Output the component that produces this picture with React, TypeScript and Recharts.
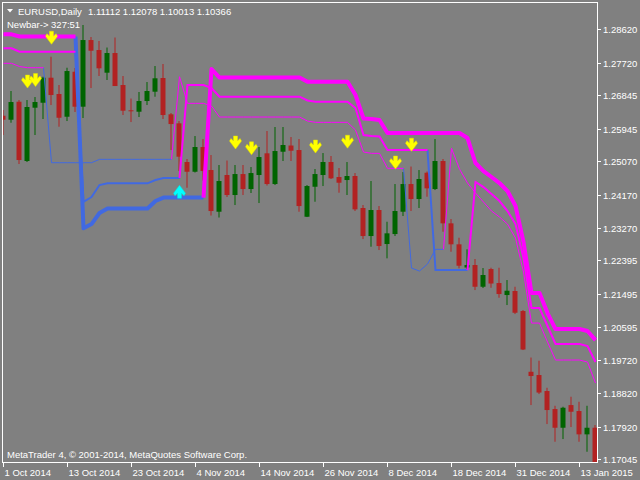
import React from "react";
import { ComposedChart, Bar, Line, Scatter, XAxis, YAxis } from "recharts";

const _ = null;

// daily EURUSD candles, 1 Oct 2014 .. 15 Jan 2015
const open = [
  1.26292, 1.26184, 1.26669, 1.25072, 1.26508, 1.26642, 1.27316, 1.26877, 1.26265, 1.27477,
  1.26535, 1.28331, 1.28062, 1.27451, 1.27981, 1.27119, 1.26438, 1.264, 1.26688, 1.26939,
  1.27308, 1.2633, 1.26087, 1.25045, 1.24783, 1.25449, 1.24829, 1.23706, 1.24695, 1.24156,
  1.24721, 1.24317, 1.24695, 1.25279, 1.24452, 1.25322, 1.25489, 1.25368, 1.23571, 1.24379,
  1.24695, 1.25045, 1.24641, 1.2456, 1.24668, 1.23806, 1.23051, 1.23752, 1.22836, 1.23105,
  1.23706, 1.24452, 1.24048, 1.24756, 1.24317, 1.25072, 1.23393, 1.22828, 1.22203, 1.2227,
  1.21685, 1.22162, 1.21785, 1.21462, 1.2157, 1.21031, 1.19395, 1.19307, 1.18876, 1.18391,
  1.17887, 1.18498, 1.18337, 1.17709, 1.17887,
];
const high = [
  1.26446, 1.26958, 1.26715, 1.26715, 1.26796, 1.27343, 1.27882, 1.27119, 1.27585, 1.27577,
  1.28736, 1.28412, 1.28305, 1.28129, 1.28399, 1.27362, 1.26755, 1.26931, 1.272, 1.27631,
  1.27685, 1.26365, 1.26149, 1.25126, 1.25745, 1.25664, 1.25233, 1.24964, 1.25085, 1.24964,
  1.24964, 1.2491, 1.25449, 1.2588, 1.25988, 1.25988, 1.25718, 1.25664, 1.24425, 1.24856,
  1.25287, 1.25206, 1.24883, 1.25045, 1.24748, 1.23886, 1.24533, 1.23859, 1.23436, 1.24452,
  1.24775, 1.24923, 1.24829, 1.24789, 1.25664, 1.25126, 1.23509, 1.23005, 1.22693, 1.22432,
  1.22189, 1.22197, 1.22197, 1.21866, 1.21685, 1.21058, 1.19778, 1.19692, 1.18964, 1.18479,
  1.18453, 1.18722, 1.18587, 1.18479, 1.1796,
];
const low = [
  1.25772, 1.26103, 1.24991, 1.25045, 1.25772, 1.26203, 1.2658, 1.25996, 1.26149, 1.26392,
  1.2623, 1.27038, 1.27362, 1.27254, 1.27092, 1.26311, 1.26122, 1.26257, 1.2658, 1.26804,
  1.26203, 1.25368, 1.24802, 1.24352, 1.24762, 1.24546, 1.23603, 1.2355, 1.24102, 1.23886,
  1.24156, 1.2421, 1.2394, 1.24412, 1.24425, 1.25072, 1.25072, 1.23706, 1.23563, 1.23975,
  1.24398, 1.24587, 1.24218, 1.24156, 1.23725, 1.2297, 1.22763, 1.22674, 1.2245, 1.23051,
  1.2359, 1.23725, 1.23806, 1.2411, 1.2429, 1.23167, 1.22628, 1.22181, 1.22162, 1.21596,
  1.2165, 1.21658, 1.21389, 1.21192, 1.2095, 1.1998, 1.18498, 1.18795, 1.17986, 1.1751,
  1.17582, 1.17906, 1.1751, 1.1724, 1.16613,
];
const close = [
  1.26184, 1.26661, 1.25099, 1.26527, 1.26661, 1.27316, 1.2685, 1.26238, 1.27496, 1.26535,
  1.28331, 1.28043, 1.27569, 1.27981, 1.27092, 1.26427, 1.26419, 1.26688, 1.26958, 1.273,
  1.26311, 1.26068, 1.25188, 1.24783, 1.25449, 1.24802, 1.23725, 1.24533, 1.24156, 1.24721,
  1.24317, 1.24748, 1.25179, 1.24452, 1.25341, 1.25503, 1.25349, 1.23859, 1.24398, 1.24721,
  1.25045, 1.24606, 1.24487, 1.24668, 1.2377, 1.23051, 1.23752, 1.22782, 1.23124, 1.23725,
  1.24452, 1.24048, 1.24587, 1.24336, 1.25072, 1.23393, 1.22828, 1.22251, 1.2227, 1.21685,
  1.22001, 1.21772, 1.21489, 1.21578, 1.20985, 1.19994, 1.1928, 1.18835, 1.18364, 1.17887,
  1.18426, 1.18318, 1.17709, 1.17887, 1.16613,
];

// channel lines: outer (thick), middle, inner (thin); magenta above, blue below
const thickMag = [
  1.28485, 1.28485, 1.28426, 1.28426, 1.28426, 1.28426, 1.28426, 1.28426, 1.28426, 1.28426,
  _, _, _, _, _, _, _, _, _, _,
  _, _, _, _, _, 1.24088, 1.2755, 1.27321, 1.27321, 1.27321,
  1.27321, 1.27321, 1.27321, 1.27321, 1.27321, 1.27321, 1.27321, 1.27321, 1.27208, 1.27208,
  1.27208, 1.27208, 1.27208, 1.27208, 1.2685, 1.26217, 1.26203, 1.26176, 1.25826, 1.25826,
  1.25826, 1.25826, 1.25826, 1.25826, 1.25826, 1.25826, 1.25826, 1.25826, 1.25691, 1.25018,
  1.24802, 1.24641, 1.24479, 1.24263, 1.23859, 1.2289, 1.21516, 1.21516, 1.20977, 1.20546,
  1.20546, 1.20546, 1.20546, 1.20492, 1.20249,
];
const thickBlue = [
  _, _, _, _, _, _, _, _, _, 1.28426,
  1.23259, 1.23374, 1.23671, 1.23792, 1.23792, 1.23792, 1.23792, 1.23792, 1.23792, 1.23994,
  1.24088, 1.24088, 1.24088, 1.24088, 1.24088, 1.24088, _, _, _, _,
  _, _, _, _, _, _, _, _, _, _,
  _, _, _, _, _, _, _, _, _, _,
  _, _, _, _, _, _, _, _, _, _,
  _, _, _, _, _, _, _, _, _, _,
  _, _, _, _, _,
];
const medMag = [
  1.28108, 1.28108, 1.28016, 1.28016, 1.28016, 1.28016, 1.28016, 1.28016, 1.28016, 1.28016,
  _, _, _, _, _, _, _, _, _, _,
  _, _, 1.24614, 1.27119, 1.27119, 1.27119, 1.27038, 1.26804, 1.26804, 1.26804,
  1.26804, 1.26804, 1.26804, 1.26804, 1.26804, 1.26804, 1.26804, 1.26804, 1.26702, 1.26669,
  1.26669, 1.26669, 1.26669, 1.26669, 1.265, 1.25772, 1.25745, 1.25732, 1.25368, 1.25368,
  1.25368, 1.25368, 1.25368, 1.25368, _, _, _, _, 1.22135, 1.24506,
  1.24371, 1.24183, 1.23994, 1.23725, 1.23374, 1.22459, 1.21112, 1.21112, 1.20627, 1.20142,
  1.20142, 1.20142, 1.20142, 1.20088, 1.19657,
];
const medBlue = [
  _, _, _, _, _, _, _, _, _, 1.28016,
  1.23975, 1.24102, 1.24425, 1.24471, 1.24471, 1.24471, 1.24471, 1.24471, 1.24471, 1.2456,
  1.24614, 1.24614, 1.24614, _, _, _, _, _, _, _,
  _, _, _, _, _, _, _, _, _, _,
  _, _, _, _, _, _, _, _, _, _,
  _, _, _, 1.25368, 1.22135, 1.22135, 1.22135, 1.22135, 1.22135, _,
  _, _, _, _, _, _, _, _, _, _,
  _, _, _, _, _,
];
const thinMag = [
  1.27704, 1.27704, 1.27618, 1.27585, 1.27585, 1.27585, _, _, _, _,
  _, _, _, _, _, _, _, _, _, _,
  _, 1.25117, 1.27343, 1.26626, 1.26626, 1.26626, 1.26553, 1.26257, 1.26257, 1.26257,
  1.26257, 1.26257, 1.26257, 1.26257, 1.26257, 1.26257, 1.26257, 1.26257, 1.26149, 1.26114,
  1.26114, 1.26114, 1.26114, 1.26114, 1.25907, 1.25314, 1.25279, 1.25279, 1.24875, 1.24875,
  1.24875, _, _, _, _, 1.22693, 1.25414, 1.24856, 1.24479, 1.2421,
  1.23967, 1.23725, 1.23563, 1.23374, 1.22997, 1.22081, 1.20707, 1.20707, 1.20196, 1.19711,
  1.19711, 1.19711, 1.19711, 1.19657, 1.19091,
];
const thinBlue = [
  _, _, _, _, _, 1.27585, 1.25026, 1.25026, 1.25026, 1.25026,
  1.25026, 1.25026, 1.25117, 1.25117, 1.25117, 1.25117, 1.25117, 1.25117, 1.25117, 1.25117,
  1.25117, 1.25117, _, _, _, _, _, _, _, _,
  _, _, _, _, _, _, _, _, _, _,
  _, _, _, _, _, _, _, _, _, _,
  1.24875, 1.22189, 1.22108, 1.22297, 1.22693, 1.22693, _, _, _, _,
  _, _, _, _, _, _, _, _, _, _,
  _, _, _, _, _,
];

// signal arrows
const sellIdx = [3, 4, 6, 29, 31, 39, 43, 49, 51];
const sellPrice = [1.27213, 1.27254, 1.28393, 1.2557, 1.25414, 1.25462, 1.25592, 1.25031, 1.25511];
const buyIdx = [22];
const buyPrice = [1.24245];

const dateTickIdx = [0, 8, 16, 24, 32, 40, 48, 56, 64, 72];
const dateLabels = [
  "1 Oct 2014", "13 Oct 2014", "23 Oct 2014", "4 Nov 2014", "14 Nov 2014",
  "26 Nov 2014", "8 Dec 2014", "18 Dec 2014", "31 Dec 2014", "13 Jan 2015",
];
const priceTicks = [
  1.2862, 1.2772, 1.26845, 1.25945, 1.2507, 1.2417, 1.2327,
  1.22395, 1.21495, 1.20595, 1.1972, 1.1882, 1.1792, 1.17045,
];

const rows = open.map((o, i) => ({
  i,
  o,
  h: high[i],
  l: low[i],
  c: close[i],
  tm: thickMag[i],
  tb: thickBlue[i],
  mm: medMag[i],
  mb: medBlue[i],
  nm: thinMag[i],
  nb: thinBlue[i],
}));
const sells = sellIdx.map((i, k) => ({ i, p: sellPrice[k] }));
const buys = buyIdx.map((i, k) => ({ i, p: buyPrice[k] }));

const FONT = '"Liberation Sans", Arial, sans-serif';
const BULL = "#006400";
const BEAR = "#b22222";
const MAGENTA = "#ff00ff";
const BLUE = "#4169e1";

const Candle = (props: any) => {
  const { x, y, width, height, payload } = props;
  if (payload == null) return null;
  const top = Math.min(y, y + height);
  const span = Math.abs(height);
  const k = span / (payload.h - payload.l);
  const bTop = top + (payload.h - Math.max(payload.o, payload.c)) * k;
  const bBot = top + (payload.h - Math.min(payload.o, payload.c)) * k;
  const col = payload.c >= payload.o ? BULL : BEAR;
  const cx = x + width / 2;
  return (
    <g>
      <line x1={cx} x2={cx} y1={top} y2={top + span} stroke={col} strokeWidth={1} />
      <rect x={x} y={bTop} width={width} height={Math.max(1, bBot - bTop)} fill={col} />
    </g>
  );
};

// bold MT4-style arrow: shaft plus chevron head, ~12x13 px
const arrowPts = (cx: number, cy: number, down: boolean) => {
  const pts = [
    [-2, -6.5], [2, -6.5], [2, -1.5], [4.5, -4], [6, -1.5],
    [0, 6.5], [-6, -1.5], [-4.5, -4], [-2, -1.5],
  ];
  return pts.map(([dx, dy]) => `${cx + dx},${cy + (down ? dy : -dy)}`).join(" ");
};

const SellArrow = (props: any) => (
  <polygon points={arrowPts(props.cx, props.cy, true)} fill="#ffff00" stroke="#e0e000" strokeWidth={0.5} />
);
const BuyArrow = (props: any) => (
  <polygon points={arrowPts(props.cx, props.cy, false)} fill="#00ffff" stroke="#00e0e0" strokeWidth={0.5} />
);

const DateTick = (props: any) => {
  const { x, y, payload } = props;
  const k = dateTickIdx.indexOf(payload.value);
  const tx = Math.floor(x) + 0.5;
  return (
    <g>
      <line x1={tx} x2={tx} y1={y} y2={y + 5} stroke="#fff" />
      <text x={tx + 1} y={y + 13.5} fill="#fff" fontSize={9.5} fontFamily={FONT}>
        {dateLabels[k]}
      </text>
    </g>
  );
};

const PriceTick = (props: any) => {
  const { x, y, payload } = props;
  const ty = Math.round(y) + 0.5;
  return (
    <g>
      <line x1={x} x2={x + 4} y1={ty} y2={ty} stroke="#fff" />
      <text x={x + 6} y={ty + 3.5} fill="#fff" fontSize={9.5} fontFamily={FONT}>
        {Number(payload.value).toFixed(5)}
      </text>
    </g>
  );
};

export default function App() {
  return (
    <div
      style={{
        position: "absolute",
        left: 0,
        top: 0,
        width: 640,
        height: 480,
        background: "#808080",
        overflow: "hidden",
      }}
    >
      <ComposedChart width={640} height={480} data={rows} margin={{ top: 2, right: 0, bottom: 0, left: 2 }}>
        <XAxis
          dataKey="i"
          type="number"
          domain={[-0.1875, 74.1875]}
          allowDataOverflow
          ticks={dateTickIdx}
          interval={0}
          height={18}
          tickSize={0}
          tickMargin={0}
          axisLine={false}
          tickLine={false}
          tick={(p: any) => <DateTick {...p} />}
        />
        <YAxis
          orientation="right"
          type="number"
          domain={[1.169642, 1.293555]}
          allowDataOverflow
          ticks={priceTicks}
          interval={0}
          width={43}
          tickSize={0}
          tickMargin={0}
          axisLine={false}
          tickLine={false}
          tick={(p: any) => <PriceTick {...p} />}
        />
        <Bar
          dataKey={(d: any) => [d.l, d.h]}
          barSize={5}
          shape={(p: any) => <Candle {...p} />}
          isAnimationActive={false}
        />
        <Line dataKey="nb" stroke={BLUE} strokeWidth={1} dot={false} activeDot={false} connectNulls={false} isAnimationActive={false} />
        <Line dataKey="mb" stroke={BLUE} strokeWidth={2} dot={false} activeDot={false} connectNulls={false} isAnimationActive={false} />
        <Line dataKey="tb" stroke={BLUE} strokeWidth={4} strokeLinejoin="round" dot={false} activeDot={false} connectNulls={false} isAnimationActive={false} />
        <Line dataKey="nm" stroke={MAGENTA} strokeWidth={1} dot={false} activeDot={false} connectNulls={false} isAnimationActive={false} />
        <Line dataKey="mm" stroke={MAGENTA} strokeWidth={2} dot={false} activeDot={false} connectNulls={false} isAnimationActive={false} />
        <Line dataKey="tm" stroke={MAGENTA} strokeWidth={4} strokeLinejoin="round" dot={false} activeDot={false} connectNulls={false} isAnimationActive={false} />
        <Scatter data={sells} dataKey="p" shape={(p: any) => <SellArrow {...p} />} isAnimationActive={false} />
        <Scatter data={buys} dataKey="p" shape={(p: any) => <BuyArrow {...p} />} isAnimationActive={false} />
      </ComposedChart>
      <svg
        width={640}
        height={480}
        style={{ position: "absolute", left: 0, top: 0, pointerEvents: "none" }}
        fontFamily={FONT}
      >
        <rect x={2.5} y={2.5} width={595} height={460} fill="none" stroke="#fff" />
        <polygon points="7,9 13,9 10,12.5" fill="#fff" />
        <text x={18} y={14.5} fill="#fff" fontSize={9.5}>EURUSD,Daily</text>
        <text x={88} y={14.5} fill="#fff" fontSize={9.5}>1.11112 1.12078 1.10013 1.10366</text>
        <text x={7} y={27.5} fill="#fff" fontSize={9.5}>Newbar-&gt; 327:51</text>
        <text x={7} y={458} fill="#fff" fontSize={9.5}>
          MetaTrader 4, © 2001-2014, MetaQuotes Software Corp.
        </text>
      </svg>
    </div>
  );
}
